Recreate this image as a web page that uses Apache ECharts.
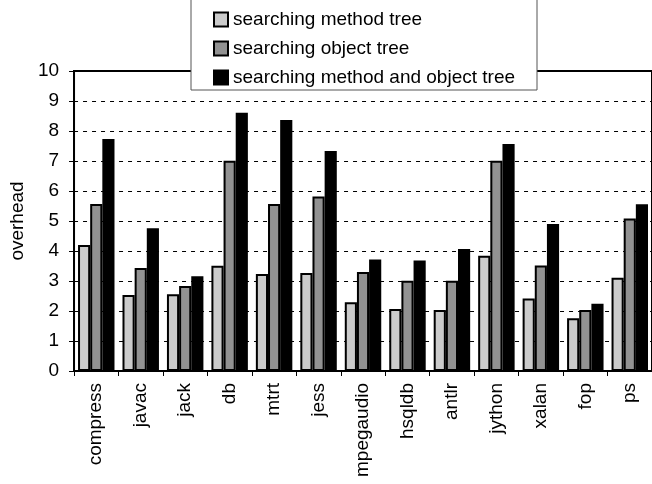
<!DOCTYPE html>
<html><head><meta charset="utf-8">
<script src="https://cdn.jsdelivr.net/npm/echarts@6/dist/echarts.min.js"></script>
<style>html,body{margin:0;padding:0;background:#fff}#c{width:652px;height:484px}</style>
</head><body><div id="c"></div>
<script>
const categories = ['compress','javac','jack','db','mtrt','jess','mpegaudio','hsqldb','antlr','jython','xalan','fop','ps'];
const seriesNames = ['searching method tree','searching object tree','searching method and object tree'];
const methodTree = [4.2,2.53,2.56,3.51,3.23,3.27,2.29,2.07,2.03,3.84,2.42,1.76,3.11];
const objectTree = [5.57,3.43,2.83,7.01,5.57,5.82,3.3,3.01,3.01,7.01,3.52,2.03,5.08];
const methodAndObject = [7.73,4.76,3.16,8.61,8.37,7.33,3.72,3.68,4.07,7.57,4.9,2.24,5.56];
const yTicks = [0,1,2,3,4,5,6,7,8,9,10];

const colors = ['#cbcbcb','#929292','#000000'];
const FONT = 'Liberation Sans';
const chart = echarts.init(document.getElementById('c'));
const data = [methodTree, objectTree, methodAndObject];
chart.setOption({
  animation:false,
  textStyle:{fontFamily:FONT},
  grid:{left:73, top:71, bottom:113, right:-6, show:true, borderColor:'#000', borderWidth:2, backgroundColor:'transparent'},
  legend:{
    orient:'vertical', left:191, top:-1,
    backgroundColor:'#fff', borderColor:'#555', borderWidth:1,
    padding:[10,22,2,22],
    itemWidth:14, itemHeight:14, itemGap:8,
    textStyle:{fontSize:19, color:'#000', fontFamily:FONT, lineHeight:21},
    data: seriesNames.map(n=>({name:n, icon:'rect'}))
  },
  xAxis:{
    type:'category', data:categories,
    axisLine:{lineStyle:{color:'#000', width:2}},
    axisTick:{show:true, length:5, alignWithLabel:false, lineStyle:{color:'#000'}},
    axisLabel:{rotate:90, fontSize:19, color:'#000', margin:12, interval:0, fontFamily:FONT}
  },
  yAxis:{
    type:'value', min:yTicks[0], max:yTicks[yTicks.length-1], interval:1,
    name:'overhead', nameLocation:'middle', nameGap:47, nameRotate:90,
    nameTextStyle:{fontSize:19, color:'#000', fontFamily:FONT},
    axisLine:{show:true, lineStyle:{color:'#000', width:2}},
    axisTick:{show:true, length:5, lineStyle:{color:'#000'}},
    axisLabel:{fontSize:19, color:'#000', margin:15, fontFamily:FONT},
    splitLine:{show:true, lineStyle:{color:'#000', type:[4,5], width:1}}
  },
  series: seriesNames.map((n,i)=>({
    name:n, type:'bar', data:data[i],
    barGap:'0%', barCategoryGap:'18%',
    itemStyle:{color:colors[i], borderColor:'#000', borderWidth:2}
  }))
});
</script></body></html>
